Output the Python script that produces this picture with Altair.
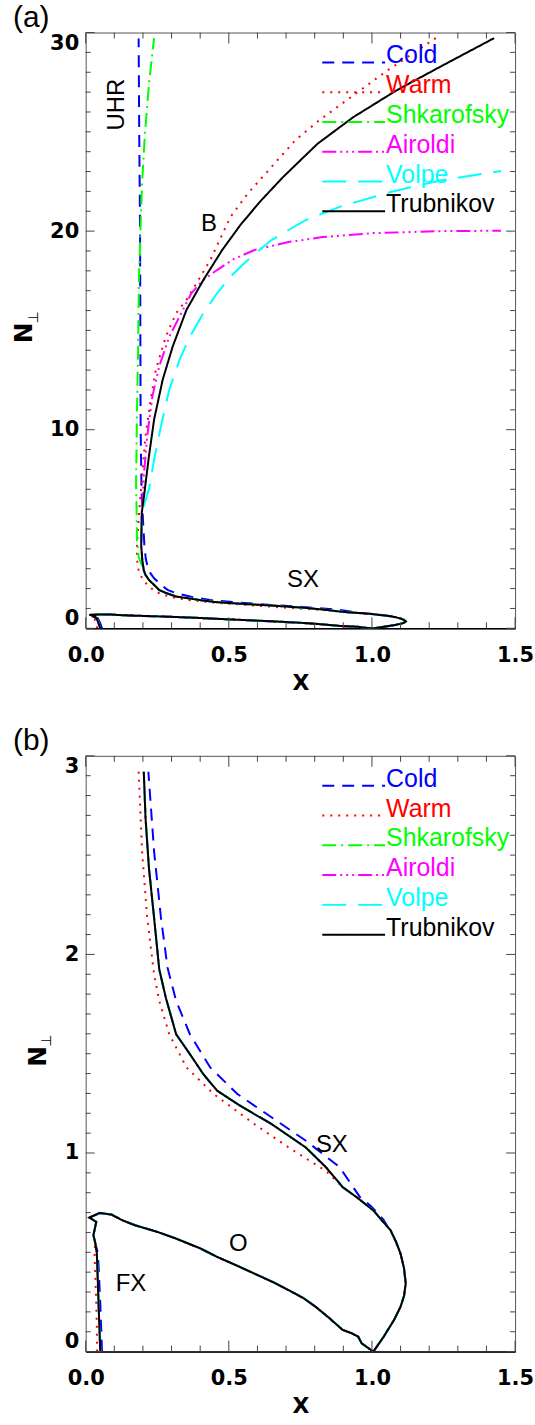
import altair as alt
import pandas as pd

# ---------------- data ----------------
MODELS = ["Cold", "Warm", "Shkarofsky", "Airoldi", "Volpe", "Trubnikov"]
COLORS = ["#0000ff", "#ff0000", "#00ff00", "#ff00ff", "#00ffff", "#000000"]
DASHES = [[12, 8], [2, 6], [14, 5, 2, 5], [14, 4, 2, 4, 2, 4, 2, 4], [24, 12], [1, 0]]

# FX + O branch (common to all models)
FXO_X = [0.051, 0.048, 0.045, 0.042, 0.039, 0.033, 0.027, 0.037, 0.013, 0.049, 0.090, 0.130,
         0.173, 0.250, 0.316, 0.400, 0.459, 0.530, 0.601, 0.660, 0.708, 0.760, 0.803, 0.850,
         0.898, 0.930, 0.952, 0.964, 0.985]
FXO_Y = [0.000, 0.120, 0.243, 0.370, 0.493, 0.550, 0.586, 0.653, 0.675, 0.698, 0.690, 0.660,
         0.636, 0.603, 0.569, 0.520, 0.477, 0.432, 0.385, 0.346, 0.310, 0.270, 0.226, 0.170,
         0.109, 0.092, 0.075, 0.042, 0.020]
COLD_FX_X = [0.057, 0.054, 0.051, 0.047, 0.043]
WARM_FX_X = [0.040, 0.039, 0.037, 0.034, 0.031]

# SX branch, low part (N_perp < 3)
TRUB_SX_X = [1.005, 1.041, 1.077, 1.100, 1.112, 1.118, 1.112, 1.100, 1.085, 1.065, 1.035, 1.005,
             0.946, 0.898, 0.839, 0.768, 0.649, 0.589, 0.530, 0.459, 0.411, 0.364, 0.316, 0.280,
             0.257, 0.239, 0.221, 0.209, 0.203]
TRUB_SX_Y = [0.000, 0.075, 0.159, 0.226, 0.280, 0.343, 0.420, 0.493, 0.550, 0.611, 0.660, 0.711,
             0.778, 0.828, 0.929, 1.029, 1.146, 1.196, 1.247, 1.314, 1.397, 1.498, 1.598, 1.782,
             1.925, 2.184, 2.435, 2.688, 2.920]
COLD_SX_X = [1.005, 1.041, 1.077, 1.100, 1.112, 1.118, 1.112, 1.100, 1.077, 1.040, 0.995, 0.958,
             0.887, 0.768, 0.649, 0.530, 0.435, 0.364, 0.316, 0.286, 0.263, 0.239, 0.219]
COLD_SX_Y = [0.000, 0.075, 0.159, 0.226, 0.280, 0.343, 0.420, 0.493, 0.577, 0.665, 0.735, 0.778,
             0.929, 1.063, 1.180, 1.297, 1.431, 1.598, 1.766, 1.933, 2.184, 2.519, 2.920]
WARM_SX_X = [1.005, 1.041, 1.077, 1.100, 1.112, 1.118, 1.112, 1.100, 1.085, 1.065, 1.035, 1.005,
             0.946, 0.898, 0.839, 0.708, 0.589, 0.447, 0.352, 0.292, 0.257, 0.239, 0.215, 0.197,
             0.185]
WARM_SX_Y = [0.000, 0.075, 0.159, 0.226, 0.280, 0.343, 0.420, 0.493, 0.550, 0.611, 0.660, 0.711,
             0.778, 0.828, 0.910, 1.029, 1.146, 1.297, 1.431, 1.598, 1.766, 1.899, 2.184, 2.519,
             2.920]

# upper part (UHR / B branches), panel (a) only
TRUB_UP_X = [0.198, 0.194, 0.196, 0.203, 0.221, 0.239, 0.269, 0.304, 0.352, 0.411, 0.477, 0.540,
             0.610, 0.690, 0.810, 0.935, 1.085, 1.235, 1.427]
TRUB_UP_Y = [3.40, 4.15, 5.83, 6.58, 8.67, 10.51, 12.52, 14.19, 16.03, 17.54, 19.05, 20.30,
             21.50, 22.73, 24.40, 25.74, 27.08, 28.25, 29.72]
COLD_UP_X = [0.210, 0.205, 0.200, 0.195, 0.192, 0.191, 0.190, 0.187, 0.185]
COLD_UP_Y = [3.50, 4.20, 5.50, 7.00, 10.0, 15.0, 20.0, 25.0, 29.7]
WARM_UP_X = [0.179, 0.179, 0.185, 0.197, 0.209, 0.227, 0.245, 0.280, 0.316, 0.352, 0.387, 0.435,
             0.506, 0.566, 0.649, 0.732, 0.815, 0.958, 1.053, 1.223]
WARM_UP_Y = [3.50, 4.15, 5.50, 7.67, 9.67, 11.52, 13.02, 14.69, 15.87, 16.54, 17.37, 18.54,
             20.72, 21.89, 23.23, 24.57, 25.57, 27.08, 28.08, 29.72]
SHK_UP_X = [0.185, 0.179, 0.178, 0.176, 0.179, 0.183, 0.186, 0.191, 0.197, 0.207, 0.221, 0.239]
SHK_UP_Y = [3.60, 4.50, 5.80, 7.33, 10.68, 14.03, 17.50, 19.88, 22.40, 24.90, 27.41, 29.72]
AIR_UP_X = [0.198, 0.194, 0.196, 0.203, 0.215, 0.233, 0.257, 0.292, 0.328, 0.369, 0.411, 0.459,
            0.518, 0.590, 0.708, 0.827, 1.005, 1.243, 1.451]
AIR_UP_Y = [3.40, 4.15, 5.83, 7.67, 9.67, 11.68, 13.19, 14.69, 15.70, 16.87, 17.54, 18.04,
            18.60, 19.05, 19.45, 19.70, 19.90, 20.00, 20.02]
VOL_UP_X = [0.198, 0.194, 0.196, 0.221, 0.239, 0.263, 0.292, 0.328, 0.364, 0.411, 0.459, 0.506,
            0.554, 0.607, 0.649, 0.768, 0.887, 1.065, 1.243, 1.451]
VOL_UP_Y = [3.40, 4.15, 5.83, 7.00, 8.50, 10.18, 12.02, 13.52, 14.69, 15.87, 16.87, 17.71,
            18.38, 19.05, 19.55, 20.55, 21.22, 21.97, 22.56, 23.03]

# annotations
NOTE_A_TEXT = ["B", "SX"]
NOTE_A_X = [0.431, 0.759]
NOTE_A_Y = [20.34, 2.44]
ROT_A_TEXT = ["UHR"]
ROT_A_X = [0.108]
ROT_A_Y = [26.37]
NOTE_B_TEXT = ["SX", "O", "FX"]
NOTE_B_X = [0.860, 0.533, 0.158]
NOTE_B_Y = [1.042, 0.544, 0.341]

X_MAJOR = [0.0, 0.5, 1.0, 1.5]
X_MINOR = [round(0.1 * k, 1) for k in range(1, 15) if k % 5]
A_Y_MAJOR = [0, 10, 20, 30]
A_Y_MINOR = [k for k in range(1, 30) if k % 10]
B_Y_MAJOR = [0, 1, 2, 3]
B_Y_MINOR = [round(0.1 * k, 1) for k in range(1, 30) if k % 10]

SX = {"Cold": (COLD_SX_X, COLD_SX_Y), "Warm": (WARM_SX_X, WARM_SX_Y)}
UP = {"Cold": (COLD_UP_X, COLD_UP_Y), "Warm": (WARM_UP_X, WARM_UP_Y),
      "Shkarofsky": (SHK_UP_X, SHK_UP_Y), "Airoldi": (AIR_UP_X, AIR_UP_Y),
      "Volpe": (VOL_UP_X, VOL_UP_Y), "Trubnikov": (TRUB_UP_X, TRUB_UP_Y)}

# ---------------- layout constants ----------------
W, H = 431, 598
FONT = "Liberation Sans"
BFONT = "DejaVu Sans"
TICKC = "#444444"
LEG_TOP, LEG_STEP, LEG_X0, LEG_X1 = 30.0, 29.9, 237.5, 300.5
XMAJ_LEN, XMIN_LEN, YMAJ_LEN, YMIN_LEN = 11, 6, 9, 5


def curve(model, upper):
    fx = list(FXO_X)
    if model == "Cold":
        fx[:5] = COLD_FX_X
    elif model == "Warm":
        fx[:5] = WARM_FX_X
    sx, sy = SX.get(model, (TRUB_SX_X, TRUB_SX_Y))
    xs = fx + list(sx)
    ys = list(FXO_Y) + list(sy)
    if upper:
        ux, uy = UP[model]
        xs += list(ux)
        ys += list(uy)
    return pd.DataFrame({"model": model, "i": list(range(len(xs))), "x": xs, "y": ys})


def panel(tag, ymax, ymajor, yminor, upper, notes, rot_notes, title_x):
    xs = alt.Scale(domain=[0, 1.5], nice=False, zero=False)
    ys = alt.Scale(domain=[0, ymax], nice=False, zero=False)
    color = alt.Color("model:N", scale=alt.Scale(domain=MODELS, range=COLORS), legend=None)
    dash = alt.StrokeDash("model:N", scale=alt.Scale(domain=MODELS, range=DASHES), legend=None)

    x_axis = alt.Axis(orient="bottom", values=X_MAJOR, format=".1f", ticks=False, tickSize=0,
                      domain=True, domainColor="black", domainWidth=1.5, grid=False,
                      labelFont=BFONT, labelFontSize=21, labelFontWeight="bold",
                      labelColor="black", labelPadding=16, labelFlush=False,
                      title="X", titleFont=BFONT, titleFontSize=22, titleFontWeight="bold",
                      titleColor="black", titleX=W / 2, titleY=44, titleBaseline="top",
                      titleAlign="center")
    y_axis = alt.Axis(orient="left", values=ymajor, format="d", ticks=False, tickSize=0,
                      domain=False, grid=False, labelFont=BFONT, labelFontSize=21,
                      labelFontWeight="bold", labelColor="black", labelPadding=7,
                      labelFlush=True, labelFlushOffset=0,
                      title="N", titleFont=BFONT, titleFontSize=25, titleFontWeight="bold",
                      titleColor="black", titleAngle=270, titleX=title_x, titleY=H / 2 + 2,
                      titleAlign="center", titleBaseline="alphabetic")

    layers = []
    for k, m in enumerate(MODELS):
        layers.append(
            alt.Chart(curve(m, upper)).mark_line(strokeWidth=2, clip=True).encode(
                x=alt.X("x:Q", scale=xs, axis=x_axis if k == 0 else None),
                y=alt.Y("y:Q", scale=ys, axis=y_axis if k == 0 else None),
                order=alt.Order("i:Q"),
                color=color,
                strokeDash=dash,
            )
        )

    # inward tick marks on all four sides
    for vals, ln in ((X_MAJOR, XMAJ_LEN), (X_MINOR, XMIN_LEN)):
        tdf = pd.DataFrame({"v": vals})
        for y0, y1 in ((H, H - ln), (0, ln)):
            layers.append(alt.Chart(tdf).mark_rule(color=TICKC, strokeWidth=1).encode(
                x=alt.X("v:Q", scale=xs, axis=None), y=alt.value(y0), y2=alt.value(y1)))
    for vals, ln in ((ymajor, YMAJ_LEN), (yminor, YMIN_LEN)):
        tdf = pd.DataFrame({"v": vals})
        for x0, x1 in ((0, ln), (W, W - ln)):
            layers.append(alt.Chart(tdf).mark_rule(color=TICKC, strokeWidth=1).encode(
                y=alt.Y("v:Q", scale=ys, axis=None), x=alt.value(x0), x2=alt.value(x1)))

    leg = pd.DataFrame({
        "model": MODELS,
        "x0": [1.5 * LEG_X0 / W] * len(MODELS),
        "x1": [1.5 * LEG_X1 / W] * len(MODELS),
        "y": [ymax * (1 - (LEG_TOP + k * LEG_STEP) / H) for k in range(len(MODELS))],
    })
    layers.append(alt.Chart(leg).mark_rule(strokeWidth=2).encode(
        x=alt.X("x0:Q", scale=xs, axis=None), x2="x1:Q",
        y=alt.Y("y:Q", scale=ys, axis=None), color=color, strokeDash=dash))
    layers.append(alt.Chart(leg).mark_text(align="left", baseline="alphabetic", dx=1, dy=1,
                                           font=FONT, fontSize=25).encode(
        x=alt.X("x1:Q", scale=xs, axis=None), y=alt.Y("y:Q", scale=ys, axis=None),
        text="model:N", color=color))

    nt, nx, ny = notes
    layers.append(alt.Chart(pd.DataFrame({"t": nt, "x": nx, "y": ny})).mark_text(
        align="center", baseline="middle", font=FONT, fontSize=24, color="black").encode(
        x=alt.X("x:Q", scale=xs, axis=None), y=alt.Y("y:Q", scale=ys, axis=None), text="t:N"))
    if rot_notes is not None:
        rt, rx, ry = rot_notes
        layers.append(alt.Chart(pd.DataFrame({"t": rt, "x": rx, "y": ry})).mark_text(
            align="center", baseline="middle", angle=270, font=FONT, fontSize=24,
            color="black").encode(
            x=alt.X("x:Q", scale=xs, axis=None), y=alt.Y("y:Q", scale=ys, axis=None),
            text="t:N"))
    # subscript of the axis title
    layers.append(alt.Chart(pd.DataFrame({"t": ["\u22a5"]})).mark_text(
        align="center", baseline="middle", angle=270, font=BFONT, fontSize=14,
        color="black").encode(text="t:N", x=alt.value(title_x + 2), y=alt.value(H / 2 - 13)))

    return alt.layer(*layers).resolve_axis(x="independent", y="independent").properties(
        width=W, height=H,
        title=alt.TitleParams(tag, anchor="start", frame="group", dx=-73, offset=-25,
                              fontSize=30, font=FONT, fontWeight="normal", color="black",
                              baseline="alphabetic"),
    )


pa = panel("(a)", 30, A_Y_MAJOR, A_Y_MINOR, True, (NOTE_A_TEXT, NOTE_A_X, NOTE_A_Y),
           (ROT_A_TEXT, ROT_A_X, ROT_A_Y), -54.3)
pb = panel("(b)", 3, B_Y_MAJOR, B_Y_MINOR, False, (NOTE_B_TEXT, NOTE_B_X, NOTE_B_Y), None, -40.7)

chart = alt.vconcat(pa, pb, spacing=128, bounds="flush").resolve_scale(
    x="independent", y="independent"
).properties(
    padding={"left": 11, "top": 0, "right": 0, "bottom": 0},
    background="white",
).configure_view(stroke="#555555", strokeWidth=1).configure_axis(grid=False)

chart.save("out.html", embed_options={"renderer": "svg", "actions": False})
